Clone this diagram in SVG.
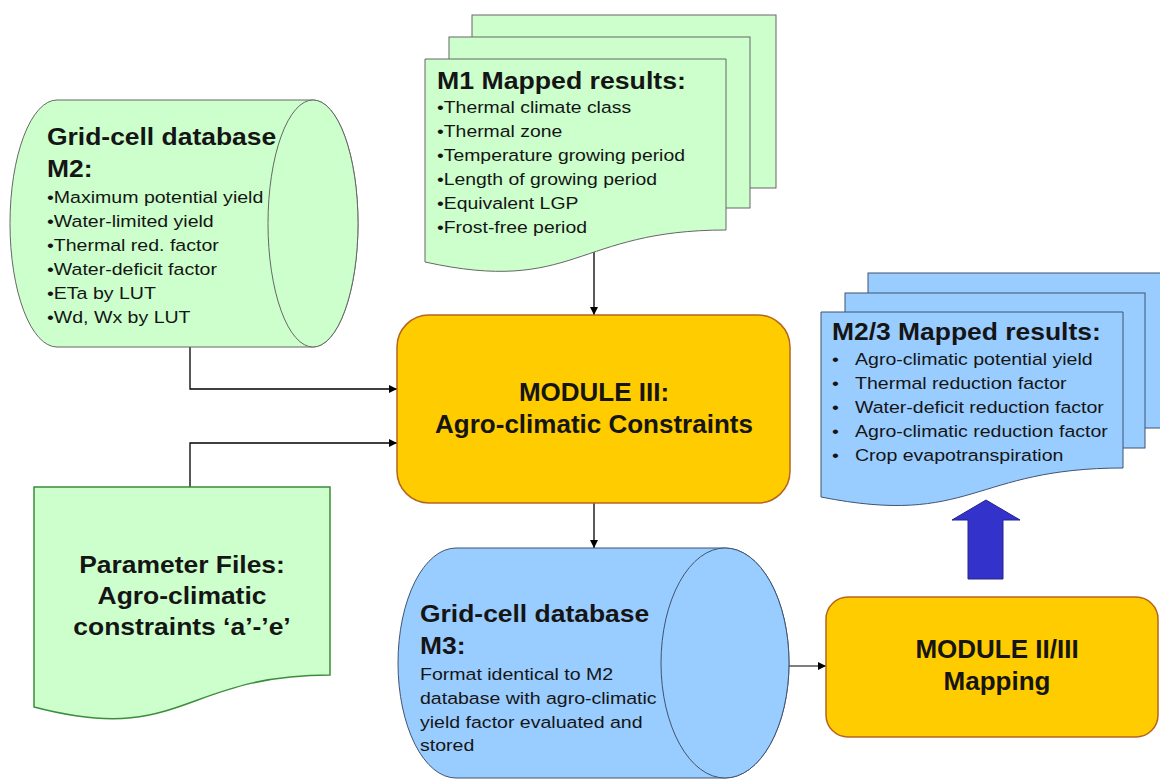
<svg xmlns="http://www.w3.org/2000/svg" width="1160" height="780" viewBox="0 0 1160 780">
<style>
.green{fill:#CCFFCC;stroke:#666;stroke-width:1}
.pgreen{fill:#CCFFCC;stroke:#3C8C3C;stroke-width:1.5}
.blue{fill:#99CCFF;stroke:#3F5470;stroke-width:1}
.mod{fill:#FFCC00;stroke:#B5651D;stroke-width:1.5}
.conn{fill:none;stroke:#000;stroke-width:1.3}
.gray{stroke:#555}
.t{font-family:"Liberation Sans",Arial,sans-serif;fill:#151515}
.ti{font-size:23px;font-weight:bold}
.b{font-size:17px}
.mt{font-size:26px;font-weight:bold;text-anchor:middle}
.c{text-anchor:middle}
</style>
<defs>
<marker id="ah" viewBox="0 0 10 10" refX="10" refY="5" markerWidth="8" markerHeight="8" markerUnits="userSpaceOnUse" orient="auto">
<path d="M0,0 L10,5 L0,10 Z" fill="#000"/>
</marker>
</defs>
<rect width="1160" height="780" fill="#fff"/>

<g id="connectors">
<path class="conn" d="M594,252 V315" marker-end="url(#ah)"/>
<path class="conn" d="M190,347 V389 H397" marker-end="url(#ah)"/>
<path class="conn" d="M190,487 V443 H397" marker-end="url(#ah)"/>
<path class="conn" d="M594,503 V548" marker-end="url(#ah)"/>
<path class="conn gray" d="M789,666 H826" marker-end="url(#ah)"/>
<polygon points="968,579 1003,579 1003,520 1020,520 986,500 952,520 968,520" fill="#3333CC" stroke="#24248A" stroke-width="1"/>
</g>

<g id="m2-database">
<path class="green" d="M57,100 H313 A45,123.5 0 0 1 313,347 H57 A47,123.5 0 0 1 57,100 Z"/>
<ellipse class="green" cx="313" cy="223.5" rx="45" ry="123.5"/>
<g class="t" transform="translate(47,0) scale(1.15,1)">
<text class="ti" x="0" y="145">Grid-cell database</text>
<text class="ti" x="0" y="177">M2:</text>
<text class="b" x="0" y="203">•Maximum potential yield</text>
<text class="b" x="0" y="227">•Water-limited yield</text>
<text class="b" x="0" y="251">•Thermal red. factor</text>
<text class="b" x="0" y="275">•Water-deficit factor</text>
<text class="b" x="0" y="299">•ETa by LUT</text>
<text class="b" x="0" y="323">•Wd, Wx by LUT</text>
</g>
</g>

<g id="m1-results">
<rect class="green" x="472" y="15" width="304" height="173"/>
<rect class="green" x="449" y="37" width="301" height="171"/>
<path class="green" d="M425,59 H726 V230 C575,230 575,295 425,262 Z"/>
<g class="t" transform="translate(437,0) scale(1.16,1)">
<text class="ti" x="0" y="89">M1 Mapped results:</text>
</g>
<g class="t" transform="translate(437,0) scale(1.14,1)">
<text class="b" x="0" y="113">•Thermal climate class</text>
<text class="b" x="0" y="137">•Thermal zone</text>
<text class="b" x="0" y="161">•Temperature growing period</text>
<text class="b" x="0" y="185">•Length of growing period</text>
<text class="b" x="0" y="209">•Equivalent LGP</text>
<text class="b" x="0" y="233">•Frost-free period</text>
</g>
</g>

<g id="module-iii">
<rect class="mod" x="397" y="315" width="393" height="188" rx="32"/>
<text class="t mt" x="594" y="401">MODULE III:</text>
<text class="t mt" x="594" y="433">Agro-climatic Constraints</text>
</g>

<g id="parameter-files">
<path class="pgreen" d="M34,487 H330 V675 C182,675 182,746 34,707 Z"/>
<g class="t" transform="translate(182,0) scale(1.15,1)">
<text class="ti c" x="0" y="573">Parameter Files:</text>
<text class="ti c" x="0" y="604">Agro-climatic</text>
<text class="ti c" x="0" y="635">constraints ‘a’-’e’</text>
</g>
</g>

<g id="m3-database">
<path class="blue" d="M456,548 H725 A64,115 0 0 1 725,778 H456 A58,115 0 0 1 456,548 Z"/>
<ellipse class="blue" cx="725" cy="663" rx="64" ry="115"/>
<g class="t" transform="translate(420,0) scale(1.15,1)">
<text class="ti" x="0" y="622">Grid-cell database</text>
<text class="ti" x="0" y="654">M3:</text>
<text class="b" x="0" y="680">Format identical to M2</text>
<text class="b" x="0" y="704">database with agro-climatic</text>
<text class="b" x="0" y="728">yield factor evaluated and</text>
<text class="b" x="0" y="751">stored</text>
</g>
</g>

<g id="m23-results">
<rect class="blue" x="868" y="273" width="310" height="155"/>
<rect class="blue" x="845" y="293" width="300" height="155"/>
<path class="blue" d="M821,312 H1123 V468 C972,468 972,527 821,497 Z"/>
<g class="t" transform="translate(832,0) scale(1.15,1)">
<text class="ti" x="0" y="340">M2/3 Mapped results:</text>
<text class="b" x="0" y="365">•</text>
<text class="b" x="20" y="365">Agro-climatic potential yield</text>
<text class="b" x="0" y="389">•</text>
<text class="b" x="20" y="389">Thermal reduction factor</text>
<text class="b" x="0" y="413">•</text>
<text class="b" x="20" y="413">Water-deficit reduction factor</text>
<text class="b" x="0" y="437">•</text>
<text class="b" x="20" y="437">Agro-climatic reduction factor</text>
<text class="b" x="0" y="461">•</text>
<text class="b" x="20" y="461">Crop evapotranspiration</text>
</g>
</g>

<g id="module-ii-iii">
<rect class="mod" x="826" y="597" width="332" height="140" rx="22"/>
<text class="t mt" x="997" y="658">MODULE II/III</text>
<text class="t mt" x="997" y="690">Mapping</text>
</g>
</svg>
